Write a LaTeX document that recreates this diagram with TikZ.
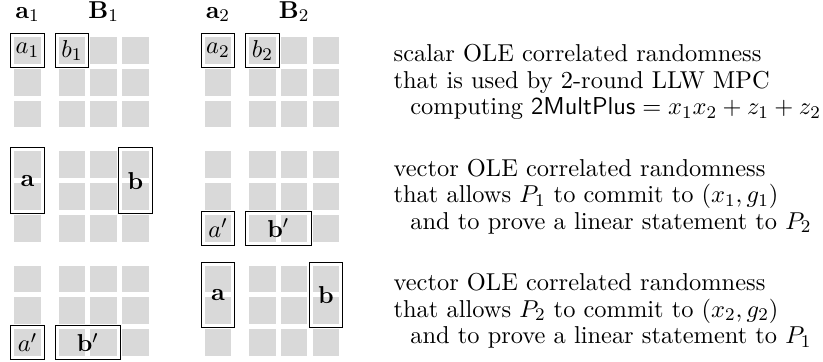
\documentclass[tikz,border=0pt]{standalone}
\usepackage{tikz}
\usetikzlibrary{shapes,
                positioning,
                fit}
\tikzset{cell/.style =
   {rectangle,
    fill=black!15,
    minimum size=0.42cm,
    inner sep=0pt}}
\tikzset{share-frame/.style =
   {rectangle,
    draw,
    inner sep=1.4pt}}
\tikzset{header/.style =
   {anchor=base,
    inner sep=0pt}}
\tikzset{description/.style =
   {align=left,
    anchor=west,
    inner sep=0pt}}

\begin{document}
\begin{tikzpicture}[auto, font=\fontsize{10.95}{11.9}\selectfont]
    \useasboundingbox (-0.433,0.795) rectangle (12.53,-4.905);

    % grey share cells: sections s, parties g, rows r, columns c
    \foreach \s/\y in {1/0,2/-1.8,3/-3.6} {
      \foreach \g/\x in {1/0,2/3} {
        \foreach \r in {1,2,3} {
          \node [cell] (a-\s-\g-\r) at (\x,\y-0.5*\r+0.5) {};
          \foreach \c in {1,2,3} {
            \node [cell] (b-\s-\g-\r-\c) at (\x+0.2+0.5*\c,\y-0.5*\r+0.5) {};
          }
        }
      }
    }

    % column headers
    \node [header] (ha1) at (0,0.51)   {$\mathbf{a}_1$};
    \node [header] (hb1) at (1.2,0.51) {$\mathbf{B}_1$};
    \node [header] (ha2) at (3,0.51)   {$\mathbf{a}_2$};
    \node [header] (hb2) at (4.2,0.51) {$\mathbf{B}_2$};

    % scalar OLE
    \node [share-frame, fit=(a-1-1-1), label=center:$a_1$] (fa1) {};
    \node [share-frame, fit=(b-1-1-1-1), label=center:$b_1$] (fb1) {};
    \node [share-frame, fit=(a-1-2-1), label=center:$a_2$] (fa2) {};
    \node [share-frame, fit=(b-1-2-1-1), label=center:$b_2$] (fb2) {};

    % vector OLE, P1 commits
    \node [share-frame, fit=(a-2-1-1)(a-2-1-2),
           label=center:$\mathbf{a}$] (fva1) {};
    \node [share-frame, fit=(b-2-1-1-3)(b-2-1-2-3),
           label=center:$\mathbf{b}$] (fvb1) {};
    \node [share-frame, fit=(a-2-2-3), label=center:$a'$] (fvap2) {};
    \node [share-frame, fit=(b-2-2-3-1)(b-2-2-3-2),
           label=center:$\mathbf{b}'$] (fvbp2) {};

    % vector OLE, P2 commits
    \node [share-frame, fit=(a-3-1-3), label=center:$a'$] (fwap1) {};
    \node [share-frame, fit=(b-3-1-3-1)(b-3-1-3-2),
           label=center:$\mathbf{b}'$] (fwbp1) {};
    \node [share-frame, fit=(a-3-2-1)(a-3-2-2),
           label=center:$\mathbf{a}$] (fwa2) {};
    \node [share-frame, fit=(b-3-2-1-3)(b-3-2-2-3),
           label=center:$\mathbf{b}$] (fwb2) {};

    % explanations
    \node [description] (desc1) at (5.76,-0.5)
    {scalar OLE correlated randomness\\
     that is used by 2-round LLW MPC\\
     \hspace*{7.5pt}computing $\mathsf{2MultPlus} = x_1x_2 + z_1 + z_2$};
    \node [description] (desc2) at (5.76,-2.3)
    {vector OLE correlated randomness\\
     that allows $P_1$ to commit to $(x_1,g_1)$\\
     \hspace*{7.5pt}and to prove a linear statement to $P_2$};
    \node [description] (desc3) at (5.76,-4.1)
    {vector OLE correlated randomness\\
     that allows $P_2$ to commit to $(x_2,g_2)$\\
     \hspace*{7.5pt}and to prove a linear statement to $P_1$};
\end{tikzpicture}
\end{document}
